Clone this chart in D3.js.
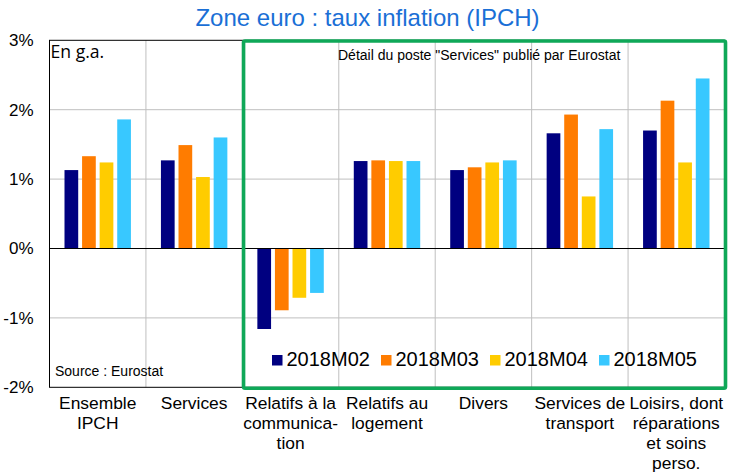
<!DOCTYPE html>
<html>
<head>
<meta charset="utf-8">
<script src="https://cdn.jsdelivr.net/npm/d3@7"></script>
<style>
  html, body { margin: 0; padding: 0; background: #fff; }
  text { font-family: "Liberation Sans", Arial, sans-serif; fill: #000; }
</style>
</head>
<body>
<div id="chart"></div>
<script>
// Data
var categories = ["Ensemble IPCH", "Services", "Relatifs à la communication", "Relatifs au logement", "Divers", "Services de transport", "Loisirs, dont réparations et soins perso."];
var categoryLines = [
    ["Ensemble", "IPCH"],
    ["Services"],
    ["Relatifs à la", "communica-", "tion"],
    ["Relatifs au", "logement"],
    ["Divers"],
    ["Services de", "transport"],
    ["Loisirs, dont", "réparations", "et soins", "perso."]
];
var seriesNames = ["2018M02", "2018M03", "2018M04", "2018M05"];
var m02 = [1.13, 1.27, -1.16, 1.26, 1.13, 1.66, 1.70];
var m03 = [1.33, 1.49, -0.89, 1.27, 1.17, 1.93, 2.13];
var m04 = [1.24, 1.03, -0.71, 1.26, 1.24, 0.75, 1.24];
var m05 = [1.86, 1.60, -0.64, 1.26, 1.27, 1.72, 2.45];
var seriesValues = [m02, m03, m04, m05];
var colors = ["#000080", "#ff7c00", "#ffcc00", "#38c8ff"];
var yTicks = [-2, -1, 0, 1, 2, 3];

var width = 733, height = 474;
var margin = {top: 40.3, right: 8.5, bottom: 86.7, left: 49.5};

var svg = d3.select("#chart")
    .append("svg")
    .attr("width", width)
    .attr("height", height)
    .style("display", "block");

// Scales
var xScale = d3.scaleBand()
    .domain(categories)
    .range([margin.left, width - margin.right]);

var xInner = d3.scaleBand()
    .domain(seriesNames)
    .range([15, xScale.bandwidth() - 15])
    .paddingInner(0.22);

var yScale = d3.scaleLinear()
    .domain([-2, 3])
    .range([height - margin.bottom, margin.top]);

// Gridlines
svg.append("g")
    .selectAll("line")
    .data(yTicks.filter(d => d !== 0 && d !== 3 && d !== -2))
    .enter().append("line")
    .attr("x1", margin.left)
    .attr("x2", width - margin.right)
    .attr("y1", d => yScale(d))
    .attr("y2", d => yScale(d))
    .attr("stroke", "#bfbfbf");

svg.append("g")
    .selectAll("line")
    .data(categories.slice(1))
    .enter().append("line")
    .attr("x1", d => xScale(d))
    .attr("x2", d => xScale(d))
    .attr("y1", margin.top)
    .attr("y2", height - margin.bottom)
    .attr("stroke", "#bfbfbf");

// Bars
seriesNames.forEach((name, s) => {
    svg.append("g")
        .selectAll("rect")
        .data(seriesValues[s])
        .enter().append("rect")
        .attr("x", (d, i) => xScale(categories[i]) + xInner(name))
        .attr("y", d => yScale(Math.max(d, 0)))
        .attr("width", xInner.bandwidth())
        .attr("height", d => Math.abs(yScale(d) - yScale(0)))
        .attr("fill", colors[s]);
});

// Zero line and plot frame
svg.append("line")
    .attr("x1", margin.left)
    .attr("x2", width - margin.right)
    .attr("y1", yScale(0))
    .attr("y2", yScale(0))
    .attr("stroke", "#000");

svg.append("rect")
    .attr("x", margin.left)
    .attr("y", margin.top)
    .attr("width", width - margin.left - margin.right)
    .attr("height", height - margin.top - margin.bottom)
    .attr("fill", "none")
    .attr("stroke", "#000");

// Y axis
var yAxis = d3.axisLeft(yScale)
    .tickValues(yTicks)
    .tickFormat(d => d + "%")
    .tickSize(0)
    .tickPadding(16);

svg.append("g")
    .attr("transform", `translate(${margin.left},0)`)
    .call(yAxis)
    .call(g => g.select(".domain").remove())
    .selectAll("text")
    .attr("font-size", 17)
    .style("font-family", '"Liberation Sans", Arial, sans-serif');

// X axis labels, broken on several lines
var xAxis = d3.axisBottom(xScale).tickSize(0).tickFormat("");

var xGroup = svg.append("g")
    .attr("transform", `translate(0,${height - margin.bottom})`)
    .call(xAxis)
    .call(g => g.select(".domain").remove());

xGroup.selectAll(".tick").select("text").remove();
xGroup.selectAll(".tick")
    .append("text")
    .attr("text-anchor", "middle")
    .attr("font-size", 17.4)
    .style("font-family", '"Liberation Sans", Arial, sans-serif')
    .selectAll("tspan")
    .data((d, i) => categoryLines[i])
    .enter().append("tspan")
    .attr("x", 0)
    .attr("y", (d, i) => 21.5 + i * 20.2)
    .text(d => d);

// Green box around the detail of services
svg.append("rect")
    .attr("x", xScale(categories[2]) + 1.2)
    .attr("y", margin.top + 0.7)
    .attr("width", width - margin.right - xScale(categories[2]) - 0.2)
    .attr("height", height - margin.top - margin.bottom + 0.3)
    .attr("rx", 1.5)
    .attr("fill", "none")
    .attr("stroke", "#0fa858")
    .attr("stroke-width", 3.6);

// Title and notes
svg.append("text")
    .attr("x", 367.5)
    .attr("y", 26)
    .attr("text-anchor", "middle")
    .attr("font-size", 24)
    .style("fill", "#1a6fd6")
    .text("Zone euro : taux inflation (IPCH)");

svg.append("text")
    .attr("x", 50.5)
    .attr("y", 58)
    .attr("font-size", 17.6)
    .style("font-family", '"Open Sans", sans-serif')
    .text("En g.a.");

svg.append("text")
    .attr("x", 338)
    .attr("y", 60)
    .attr("font-size", 14)
    .text('Détail du poste "Services" publié par Eurostat');

svg.append("text")
    .attr("x", 55)
    .attr("y", 375.5)
    .attr("font-size", 14)
    .text("Source : Eurostat");

// Legend
var legendX = d3.scalePoint()
    .domain(seriesNames)
    .range([272, 599]);

var legend = svg.append("g")
    .selectAll("g")
    .data(seriesNames)
    .enter().append("g")
    .attr("transform", d => `translate(${legendX(d)},355)`);

legend.append("rect")
    .attr("width", 10.5)
    .attr("height", 10.5)
    .attr("fill", (d, i) => colors[i]);

legend.append("text")
    .attr("x", 14.5)
    .attr("y", 11)
    .attr("font-size", 20)
    .text(d => d);
</script>
</body>
</html>
